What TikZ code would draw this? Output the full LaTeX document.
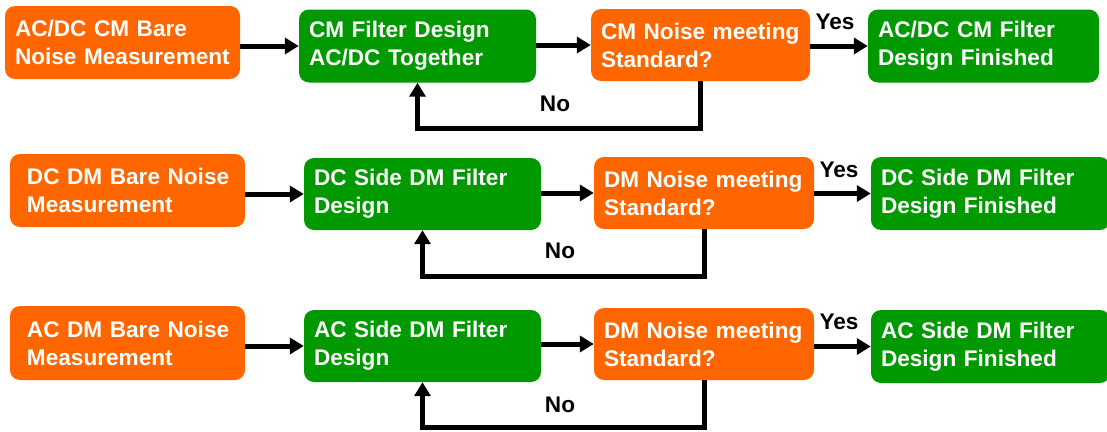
\documentclass[tikz,border=0pt]{standalone}
\usepackage{fontspec}
\setmainfont{Liberation Sans}
\usetikzlibrary{arrows.meta}
\definecolor{flowOrange}{RGB}{255,102,0}
\definecolor{flowGreen}{RGB}{0,153,0}
\begin{document}
\begin{tikzpicture}[x=1pt,y=-1pt,
  box/.style={rounded corners=10pt, text=white, align=left, inner ysep=0pt,
    font=\fontsize{22.6}{28}\selectfont\bfseries},
  obox/.style={box, fill=flowOrange},
  gbox/.style={box, fill=flowGreen},
  lbl/.style={font=\fontsize{22.6}{28}\selectfont\bfseries, text=black, inner sep=0pt},
  arr/.style={line width=5pt, -{Triangle[length=14pt,width=16pt]}},
  loop/.style={arr, rounded corners=0pt}]
\fill[white] (0,0) rectangle (1107,431);
\useasboundingbox (0,0) rectangle (1107,431);

% common-mode chain
\node[obox, inner xsep=10pt, text width=215pt, minimum height=73pt] (a1) at (122.5,42.5) {AC/DC CM Bare\\Noise~Measurement};
\node[gbox, inner xsep=10pt, text width=217pt, minimum height=73pt] (b1) at (417.5,46) {CM Filter Design\\AC/DC Together};
\node[obox, inner xsep=10pt, text width=199pt, minimum height=72pt] (c1) at (700.5,45) {CM~Noise~meeting\\Standard?};
\node[gbox, inner xsep=10pt, text width=211pt, minimum height=73pt] (d1) at (983.5,46) {AC/DC CM Filter\\Design Finished};

% DC-side differential-mode chain
\node[obox, inner xsep=17pt, text width=201pt, minimum height=73pt] (a2) at (127.5,190.5) {DC~DM~Bare~Noise\\Measurement};
\node[gbox, inner xsep=10pt, text width=217pt, minimum height=72pt] (b2) at (422.5,194) {DC Side DM Filter\\Design};
\node[obox, inner xsep=10pt, text width=200pt, minimum height=72pt] (c2) at (704,193) {DM~Noise~meeting\\Standard?};
\node[gbox, inner xsep=10pt, text width=219pt, minimum height=73pt] (d2) at (990.5,193.5) {DC Side DM Filter\\Design Finished};

% AC-side differential-mode chain
\node[obox, inner xsep=17pt, text width=201pt, minimum height=74pt] (a3) at (127.5,343) {AC~DM~Bare~Noise\\Measurement};
\node[gbox, inner xsep=10pt, text width=217pt, minimum height=72pt] (b3) at (422.5,346) {AC Side DM Filter\\Design};
\node[obox, inner xsep=10pt, text width=200pt, minimum height=72pt] (c3) at (704,344) {DM~Noise~meeting\\Standard?};
\node[gbox, inner xsep=10pt, text width=219pt, minimum height=73pt] (d3) at (990.5,346.5) {AC Side DM Filter\\Design Finished};

% decision labels
\node[lbl] (y1) at (835,22) {Yes};
\node[lbl] (y2) at (839,170) {Yes};
\node[lbl] (y3) at (839,322) {Yes};
\node[lbl] (n1) at (555,103.5) {No};
\node[lbl] (n2) at (560,251) {No};
\node[lbl] (n3) at (560,404.5) {No};

% feedback loop corners
\coordinate (l1) at (0,128);
\coordinate (l2) at (0,276);
\coordinate (l3) at (0,427);

% forward arrows and feedback loops
\foreach \r in {1,2,3}{
  \draw[arr] (a\r.east |- b\r) -- (b\r.west);
  \draw[arr] (b\r.east |- c\r) -- (c\r.west);
  \draw[arr] (c\r.east |- d\r) -- (d\r.west);
  \draw[loop] (c\r.south) -- (c\r.south |- l\r) -| (b\r.south);
}
\end{tikzpicture}
\end{document}
